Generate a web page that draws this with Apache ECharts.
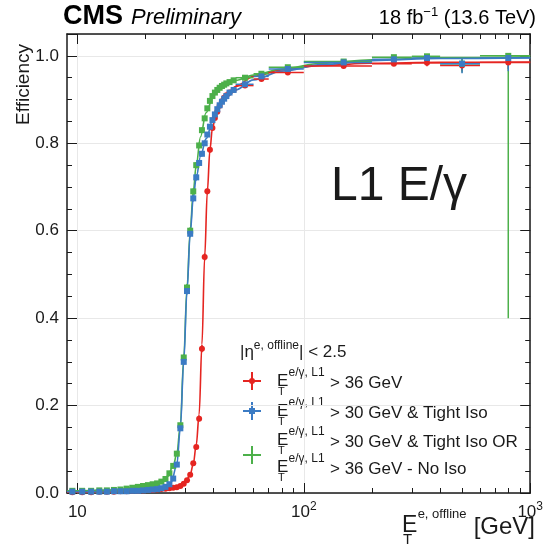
<!DOCTYPE html>
<html>
<head>
<meta charset="utf-8">
<script src="https://cdn.jsdelivr.net/npm/echarts@6.0.0/dist/echarts.min.js"></script>
<style>
html, body { margin: 0; padding: 0; background: #fff; }
#main { width: 546px; height: 554px; }
</style>
</head>
<body>
<div id="main"></div>
<script>
// offline E_T bin edges [GeV]
const binEdges = [9, 10, 11, 12, 13, 14, 15, 16, 17, 18, 19, 20, 21, 22, 23, 24, 25, 26, 27, 28, 29, 30,
    31, 32, 33, 34, 35, 36, 37, 38, 39, 40, 41, 42, 43, 44, 45, 46, 48, 50, 60, 70, 100, 200, 300, 400, 600, 1000];

// E_T(L1) > 36 GeV
const redEff = [0.002, 0.002, 0.002, 0.003, 0.003, 0.003, 0.004, 0.004, 0.005, 0.005, 0.006, 0.007, 0.007, 0.008,
    0.009, 0.010, 0.011, 0.012, 0.013, 0.016, 0.021, 0.029, 0.042, 0.068, 0.105, 0.170, 0.330, 0.540, 0.690, 0.785,
    0.835, 0.858, 0.872, 0.886, 0.896, 0.904, 0.910, 0.916, 0.922, 0.932, 0.947, 0.962, 0.977, 0.982, 0.984, 0.978, 0.985];
const redErrDn = [0, 0, 0, 0, 0, 0, 0, 0, 0, 0, 0, 0, 0, 0, 0, 0, 0, 0, 0, 0, 0, 0.002, 0.003, 0.004, 0.005, 0.006, 0.008,
    0.008, 0.007, 0.006, 0.005, 0.005, 0.005, 0.004, 0.004, 0.004, 0.004, 0.003, 0.003, 0.002, 0.003, 0.003, 0.003, 0.005, 0.008, 0.012, 0.015];
const redErrUp = [0, 0, 0, 0, 0, 0, 0, 0, 0, 0, 0, 0, 0, 0, 0, 0, 0, 0, 0, 0, 0, 0.002, 0.003, 0.004, 0.005, 0.006, 0.008,
    0.008, 0.007, 0.006, 0.005, 0.005, 0.005, 0.004, 0.004, 0.004, 0.004, 0.003, 0.003, 0.002, 0.003, 0.003, 0.003, 0.004, 0.006, 0.010, 0.010];

// E_T(L1) > 30 GeV & Tight Iso
const blueEff = [0.003, 0.003, 0.003, 0.003, 0.003, 0.004, 0.004, 0.004, 0.005, 0.005, 0.006, 0.007, 0.008, 0.009,
    0.011, 0.014, 0.020, 0.033, 0.065, 0.148, 0.300, 0.462, 0.593, 0.674, 0.722, 0.755, 0.776, 0.800, 0.820, 0.838,
    0.853, 0.866, 0.878, 0.887, 0.895, 0.902, 0.908, 0.916, 0.922, 0.935, 0.953, 0.970, 0.985, 0.992, 0.995, 0.982, 0.995];
const blueErrDn = [0, 0, 0, 0, 0, 0, 0, 0, 0, 0, 0, 0, 0, 0, 0, 0, 0, 0.002, 0.003, 0.005, 0.007, 0.008, 0.008, 0.007,
    0.007, 0.006, 0.006, 0.006, 0.005, 0.005, 0.005, 0.005, 0.005, 0.004, 0.004, 0.004, 0.004, 0.003, 0.003, 0.002, 0.003, 0.003, 0.003, 0.004, 0.006, 0.022, 0.030];
const blueErrUp = [0, 0, 0, 0, 0, 0, 0, 0, 0, 0, 0, 0, 0, 0, 0, 0, 0, 0.002, 0.003, 0.005, 0.007, 0.008, 0.008, 0.007,
    0.007, 0.006, 0.006, 0.006, 0.005, 0.005, 0.005, 0.005, 0.005, 0.004, 0.004, 0.004, 0.004, 0.003, 0.003, 0.002, 0.003, 0.003, 0.003, 0.003, 0.003, 0.012, 0.005];

// E_T(L1) > 30 GeV & Tight Iso OR E_T(L1) > 36 GeV - No Iso
const greenEff = [0.005, 0.005, 0.005, 0.006, 0.006, 0.007, 0.008, 0.010, 0.012, 0.014, 0.016, 0.018, 0.020, 0.022,
    0.026, 0.032, 0.045, 0.062, 0.090, 0.155, 0.310, 0.470, 0.600, 0.690, 0.750, 0.795, 0.830, 0.857, 0.880, 0.897,
    0.908, 0.916, 0.922, 0.927, 0.931, 0.934, 0.937, 0.940, 0.944, 0.950, 0.959, 0.974, 0.987, 0.997, 0.999, 0.982, 1.000];
const greenErrDn = [0, 0, 0, 0, 0, 0, 0, 0, 0, 0, 0, 0, 0, 0, 0, 0, 0.002, 0.002, 0.003, 0.005, 0.007, 0.008, 0.008, 0.007,
    0.007, 0.006, 0.006, 0.006, 0.005, 0.005, 0.005, 0.005, 0.005, 0.004, 0.004, 0.004, 0.004, 0.003, 0.003, 0.002, 0.003, 0.003, 0.003, 0.004, 0.004, 0.020, 0.600];
const greenErrUp = [0, 0, 0, 0, 0, 0, 0, 0, 0, 0, 0, 0, 0, 0, 0, 0, 0.002, 0.002, 0.003, 0.005, 0.007, 0.008, 0.008, 0.007,
    0.007, 0.006, 0.006, 0.006, 0.005, 0.005, 0.005, 0.005, 0.005, 0.004, 0.004, 0.004, 0.004, 0.003, 0.003, 0.002, 0.003, 0.003, 0.003, 0.002, 0.001, 0.012, 0];

// fitted turn-on curves
const redFitX = [9, 15, 20, 25, 28, 30, 31.5, 32.5, 33.5, 34.5, 35.5, 36.5, 37.5, 38.5, 39.5, 41, 43, 46, 50, 60, 80, 120, 200, 400, 1000];
const redFitY = [0.001, 0.003, 0.006, 0.010, 0.014, 0.024, 0.042, 0.066, 0.110, 0.180, 0.340, 0.540, 0.690, 0.785, 0.835,
    0.868, 0.893, 0.912, 0.930, 0.953, 0.968, 0.978, 0.983, 0.985, 0.986];
const blueFitX = [9, 15, 20, 24, 26, 27.5, 28.5, 29.5, 30.5, 31.5, 32.5, 33.5, 35, 37, 40, 43, 46, 50, 60, 80, 120, 200, 400, 1000];
const blueFitY = [0.002, 0.003, 0.006, 0.012, 0.025, 0.065, 0.148, 0.300, 0.462, 0.593, 0.674, 0.722, 0.770, 0.810, 0.860,
    0.890, 0.907, 0.922, 0.945, 0.965, 0.980, 0.989, 0.994, 0.996];
const greenFitX = [9, 15, 20, 23, 25, 26.5, 27.5, 28.5, 29.5, 30.5, 31.5, 32.5, 33.5, 35, 37, 40, 43, 46, 50, 60, 80, 120, 200, 400, 1000];
const greenFitY = [0.004, 0.007, 0.017, 0.024, 0.038, 0.062, 0.090, 0.155, 0.310, 0.470, 0.600, 0.690, 0.750, 0.815, 0.870,
    0.910, 0.928, 0.936, 0.944, 0.956, 0.970, 0.983, 0.991, 0.996, 0.998];

const xMajorTicks = [10, 100, 1000];
const xMinorTicks = [20, 30, 40, 50, 60, 70, 80, 90, 200, 300, 400, 500, 600, 700, 800, 900];

const RED = '#e52521';
const BLUE = '#3b7bc4';
const GREEN = '#4cb04a';
const INK = '#1a1a1a';
const FONT = '"Liberation Sans", Arial, sans-serif';

function binData(eff, errDn, errUp) {
    let out = [];
    for (let i = 0; i < eff.length; i++) {
        let lo = binEdges[i], hi = binEdges[i + 1];
        out.push([(lo + hi) / 2, eff[i], lo, hi, eff[i] - errDn[i], eff[i] + errUp[i]]);
    }
    return out;
}

function zip(xs, ys) {
    return xs.map((x, i) => [x, ys[i]]);
}

function errorBars(color) {
    return function (params, api) {
        let y = api.value(1);
        let l = api.coord([api.value(2), y]);
        let r = api.coord([api.value(3), y]);
        let d = api.coord([api.value(0), api.value(4)]);
        let u = api.coord([api.value(0), api.value(5)]);
        return {
            type: 'group',
            children: [
                { type: 'line', shape: { x1: l[0], y1: l[1], x2: r[0], y2: r[1] }, style: { stroke: color, lineWidth: 1.5 } },
                { type: 'line', shape: { x1: d[0], y1: d[1], x2: u[0], y2: u[1] }, style: { stroke: color, lineWidth: 1.5 } },
            ],
        };
    };
}

function makeSeries(name, color, eff, errDn, errUp, fitX, fitY, symbol, size) {
    let data = binData(eff, errDn, errUp);
    return [
        {
            name: name + ' fit',
            type: 'line',
            data: zip(fitX, fitY),
            showSymbol: false,
            smooth: 0.35,
            smoothMonotone: 'x',
            lineStyle: { color: color, width: 1.6 },
            z: 2,
            silent: true,
        },
        {
            name: name + ' err',
            type: 'custom',
            data: data,
            encode: { x: 0, y: 1 },
            renderItem: errorBars(color),
            clip: true,
            z: 3,
            silent: true,
        },
        {
            name: name,
            type: 'scatter',
            data: data,
            encode: { x: 0, y: 1 },
            symbol: symbol,
            symbolSize: size,
            itemStyle: { color: color, opacity: 1 },
            z: 4,
            silent: true,
        },
    ];
}

// E_T with sub- and superscript, as separate text pieces
function etLabel(x, y, sup, size, subSize, supSize) {
    return [
        { type: 'text', x: x, y: y, style: { text: 'E', fontFamily: FONT, fontSize: size, fill: INK, verticalAlign: 'middle' } },
        { type: 'text', x: x + 1, y: y + size * 0.62, style: { text: 'T', fontFamily: FONT, fontSize: subSize, fill: INK, verticalAlign: 'middle' } },
        { type: 'text', x: x + size * 0.68, y: y - size * 0.5, style: { text: sup, fontFamily: FONT, fontSize: supSize, fill: INK, verticalAlign: 'middle' } },
    ];
}

function legendCross(cx, cy, color, marker) {
    let out = [
        { type: 'line', shape: { x1: cx - 9, y1: cy, x2: cx + 9, y2: cy }, style: { stroke: color, lineWidth: 2 } },
        { type: 'line', shape: { x1: cx, y1: cy - 9, x2: cx, y2: cy + 9 }, style: { stroke: color, lineWidth: 2 } },
    ];
    if (marker === 'circle') out.push({ type: 'circle', shape: { cx: cx, cy: cy, r: 3 }, style: { fill: color } });
    if (marker === 'rect') out.push({ type: 'rect', shape: { x: cx - 3, y: cy - 3, width: 6, height: 6 }, style: { fill: color } });
    return out;
}

function txt(x, y, text, size) {
    return { type: 'text', x: x, y: y, style: { text: text, fontFamily: FONT, fontSize: size, fill: INK, verticalAlign: 'middle' } };
}

const xBase = { type: 'log', logBase: 10, min: 9, max: 1000, gridIndex: 0 };
const yBase = { type: 'value', min: 0, max: 1.05, gridIndex: 0 };
const frameLine = { show: true, onZero: false, lineStyle: { color: INK, width: 1.5 } };
const tickStyle = { color: INK, width: 1 };

const option = {
    animation: false,
    backgroundColor: '#fff',
    grid: { left: 67, right: 13, top: 34, bottom: 61 },
    xAxis: [
        {
            ...xBase,
            position: 'bottom',
            axisLine: frameLine,
            axisTick: { inside: true, length: 10, customValues: xMajorTicks, lineStyle: tickStyle },
            axisLabel: {
                customValues: xMajorTicks,
                margin: 8,
                color: INK,
                fontFamily: FONT,
                fontSize: 17,
                lineHeight: 22,
                formatter: function (v) {
                    if (v < 50) return '10';
                    return v < 500 ? '10{s|2}' : '10{s|3}';
                },
                rich: { s: { fontSize: 12, fontFamily: FONT, color: INK, verticalAlign: 'top', lineHeight: 22 } },
            },
            splitLine: { show: true, lineStyle: { color: '#e8e8e8', width: 1 } },
        },
        {
            ...xBase,
            position: 'top',
            axisLine: frameLine,
            axisTick: { inside: true, length: 10, customValues: xMajorTicks, lineStyle: tickStyle },
            axisLabel: { show: false },
            splitLine: { show: false },
        },
        {
            ...xBase,
            position: 'bottom',
            axisLine: { show: false, onZero: false },
            axisTick: { inside: true, length: 5, customValues: xMinorTicks, lineStyle: tickStyle },
            axisLabel: { show: false },
            splitLine: { show: false },
        },
        {
            ...xBase,
            position: 'top',
            axisLine: { show: false, onZero: false },
            axisTick: { inside: true, length: 5, customValues: xMinorTicks, lineStyle: tickStyle },
            axisLabel: { show: false },
            splitLine: { show: false },
        },
    ],
    yAxis: [
        {
            ...yBase,
            position: 'left',
            interval: 0.2,
            axisLine: frameLine,
            axisTick: { inside: true, length: 10, lineStyle: tickStyle },
            axisLabel: {
                margin: 8,
                color: INK,
                fontFamily: FONT,
                fontSize: 17,
                formatter: function (v) {
                    return v > 1.001 ? '' : v.toFixed(1);
                },
            },
            splitLine: { show: true, lineStyle: { color: '#e8e8e8', width: 1 } },
        },
        {
            ...yBase,
            position: 'right',
            interval: 0.2,
            axisLine: frameLine,
            axisTick: { inside: true, length: 10, lineStyle: tickStyle },
            axisLabel: { show: false },
            splitLine: { show: false },
        },
        {
            ...yBase,
            position: 'left',
            interval: 0.05,
            axisLine: { show: false, onZero: false },
            axisTick: { inside: true, length: 5, lineStyle: tickStyle },
            axisLabel: { show: false },
            splitLine: { show: false },
        },
        {
            ...yBase,
            position: 'right',
            interval: 0.05,
            axisLine: { show: false, onZero: false },
            axisTick: { inside: true, length: 5, lineStyle: tickStyle },
            axisLabel: { show: false },
            splitLine: { show: false },
        },
    ],
    series: [
        ...makeSeries('L1 > 36 GeV', RED, redEff, redErrDn, redErrUp, redFitX, redFitY, 'circle', 6),
        ...makeSeries('L1 > 30 GeV & Tight Iso OR > 36 GeV No Iso', GREEN, greenEff, greenErrDn, greenErrUp, greenFitX, greenFitY, 'rect', 6),
        ...makeSeries('L1 > 30 GeV & Tight Iso', BLUE, blueEff, blueErrDn, blueErrUp, blueFitX, blueFitY, 'rect', 6),
    ],
    graphic: [
        // header
        { type: 'text', x: 63, y: 17, style: { text: 'CMS', fontFamily: FONT, fontWeight: 'bold', fontSize: 27, fill: '#000', verticalAlign: 'middle' } },
        { type: 'text', x: 131, y: 18, style: { text: 'Preliminary', fontFamily: FONT, fontStyle: 'italic', fontSize: 22, fill: '#000', verticalAlign: 'middle' } },
        {
            type: 'text', x: 536, y: 18,
            style: {
                text: '18 fb{s|−1} (13.6 TeV)', fontFamily: FONT, fontSize: 20, fill: '#000', align: 'right', verticalAlign: 'middle', lineHeight: 24,
                rich: { s: { fontFamily: FONT, fontSize: 13, fill: '#000', verticalAlign: 'top', lineHeight: 24 } },
            },
        },
        // y axis title
        { type: 'text', x: 24, y: 44, rotation: Math.PI / 2, style: { text: 'Efficiency', fontFamily: FONT, fontSize: 19, fill: INK, align: 'right', verticalAlign: 'middle' } },
        // x axis title
        ...etLabel(402, 526, 'e, offline', 23, 15, 13),
        { type: 'text', x: 535, y: 527, style: { text: '[GeV]', fontFamily: FONT, fontSize: 24, fill: INK, align: 'right', verticalAlign: 'middle' } },
        // big label
        { type: 'text', x: 331, y: 187, style: { text: 'L1 E/γ', fontFamily: FONT, fontSize: 48, fill: INK, verticalAlign: 'middle' } },
        // legend header
        {
            type: 'text', x: 240, y: 352,
            style: {
                text: '|η{s|e, offline}| < 2.5', fontFamily: FONT, fontSize: 17, fill: INK, verticalAlign: 'middle', lineHeight: 24,
                rich: { s: { fontFamily: FONT, fontSize: 12, fill: INK, verticalAlign: 'top', lineHeight: 24 } },
            },
        },
        // legend entries
        ...legendCross(252, 381, RED, 'circle'),
        ...etLabel(277, 381, 'e/γ, L1', 17, 11, 12),
        txt(330, 383, '> 36 GeV', 17),
        ...legendCross(252, 411, BLUE, 'rect'),
        ...etLabel(277, 411, 'e/γ, L1', 17, 11, 12),
        txt(330, 413, '> 30 GeV & Tight Iso', 17),
        ...legendCross(252, 455, GREEN, 'none'),
        ...etLabel(277, 440, 'e/γ, L1', 17, 11, 12),
        txt(330, 442, '> 30 GeV & Tight Iso OR', 17),
        ...etLabel(277, 467, 'e/γ, L1', 17, 11, 12),
        txt(330, 469, '> 36 GeV - No Iso', 17),
    ],
};

const myChart = echarts.init(document.getElementById('main'), null, { renderer: 'canvas' });
myChart.setOption(option);
</script>
</body>
</html>
